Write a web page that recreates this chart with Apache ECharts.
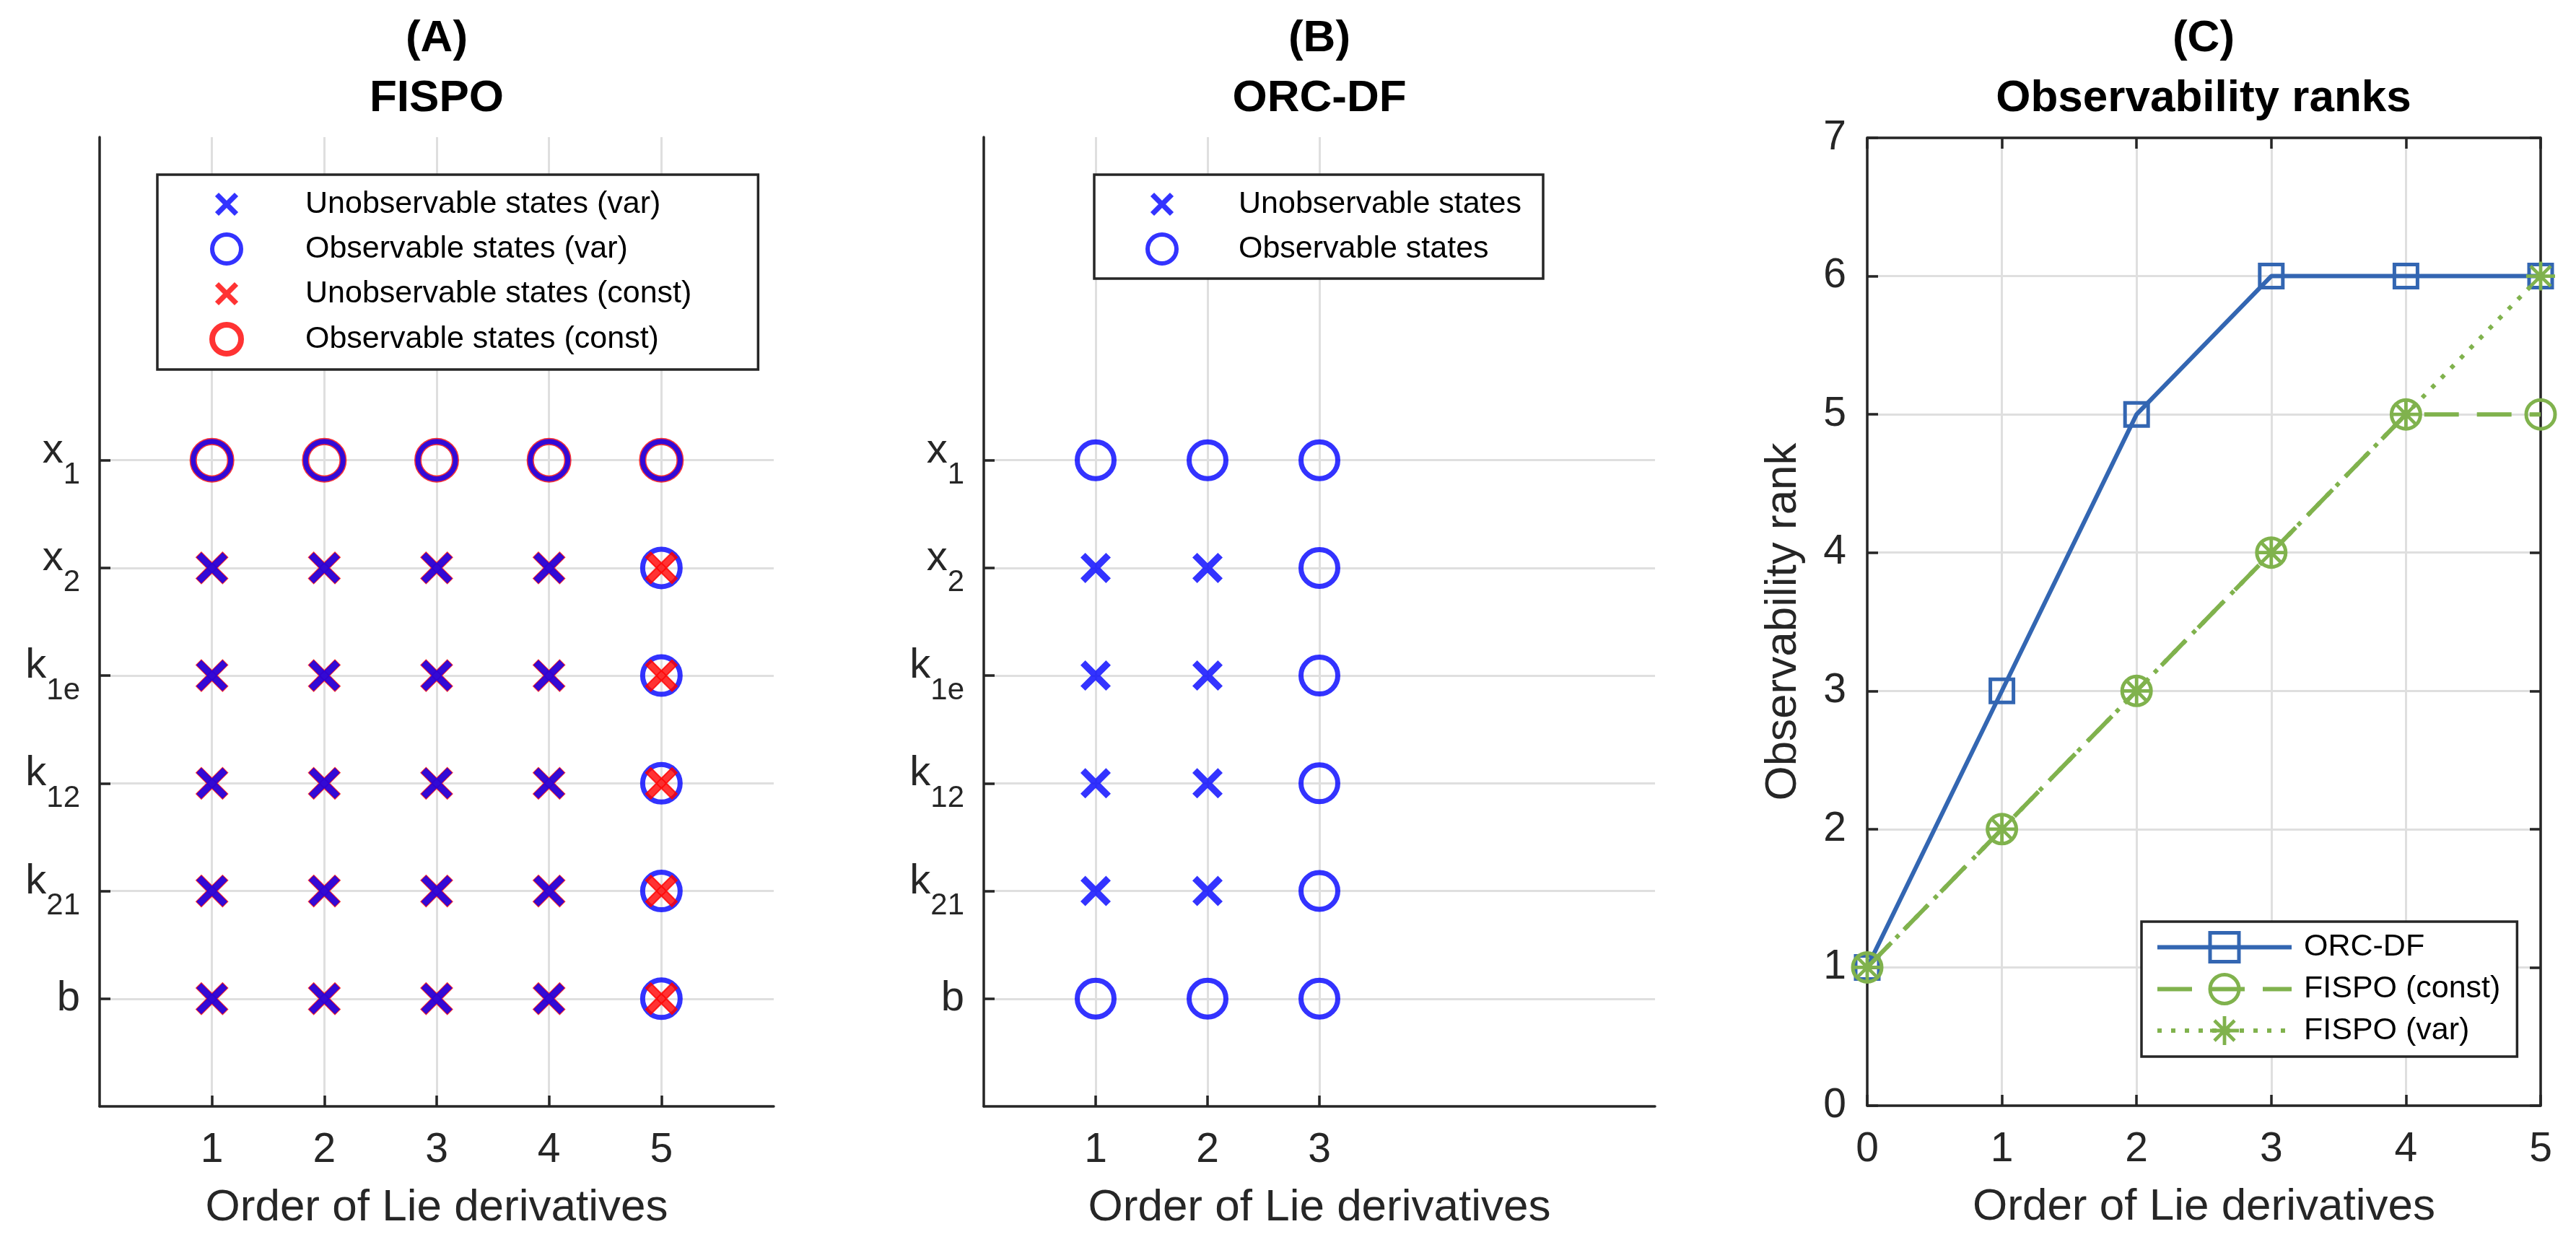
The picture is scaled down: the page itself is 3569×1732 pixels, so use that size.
<!DOCTYPE html>
<html><head><meta charset="utf-8">
<script src="https://cdn.jsdelivr.net/npm/echarts@6/dist/echarts.min.js"></script>
<style>html,body{margin:0;padding:0;background:#fff}#c{width:3569px;height:1732px}</style>
</head><body><div id="c"></div>
<script>
// ---------------- data ----------------
const stateLabels = ['b', 'k21', 'k12', 'k1e', 'x2', 'x1']; // y = 1..6
const fispoOrders = [1, 2, 3, 4, 5];
// 1 = observable, 0 = unobservable ; rows follow stateLabels
const fispoVarObservable = [
  [0, 0, 0, 0, 1],
  [0, 0, 0, 0, 1],
  [0, 0, 0, 0, 1],
  [0, 0, 0, 0, 1],
  [0, 0, 0, 0, 1],
  [1, 1, 1, 1, 1]
];
const fispoConstObservable = [
  [0, 0, 0, 0, 0],
  [0, 0, 0, 0, 0],
  [0, 0, 0, 0, 0],
  [0, 0, 0, 0, 0],
  [0, 0, 0, 0, 0],
  [1, 1, 1, 1, 1]
];
const orcdfOrders = [1, 2, 3];
const orcdfObservable = [
  [1, 1, 1],
  [0, 0, 1],
  [0, 0, 1],
  [0, 0, 1],
  [0, 0, 1],
  [1, 1, 1]
];
const rankOrders = [0, 1, 2, 3, 4, 5];
const rankOrcdf = [1, 3, 5, 6, 6, 6];
const rankFispoConst = [1, 2, 3, 4, 5, 5];
const rankFispoVar = [1, 2, 3, 4, 5, 6];

// ---------------- helpers ----------------
const FONT = '"Liberation Sans", Arial, Helvetica, sans-serif';
const AX = '#262626';
const GRIDC = '#dfdfdf';
const BLUE = '#0000ff', RED = '#ff0000';
const CBLUE = '#3366b2', CGREEN = '#80b24d';
const X_BODY = 'M9.4,-9.4L109.4,90.6L90.6,109.4L-9.4,9.4Z M109.4,9.4L9.4,109.4L-9.4,90.6L90.6,-9.4Z';
const X_PATH = 'path://' + X_BODY;
const X_LEGEND = 'path://M-24,-24L-24,-24Z M124,124L124,124Z ' + X_BODY;
const STAR_PATH = 'path://M0,44L100,44L100,56L0,56Z M44,0L56,0L56,100L44,100Z M19.2,10.8L89.2,80.8L80.8,89.2L10.8,19.2Z M89.2,19.2L19.2,89.2L10.8,80.8L80.8,10.8Z';

function pts(orders, matrix, want) {
  const out = [];
  matrix.forEach((row, i) => row.forEach((v, j) => { if (v === want) out.push([orders[j], i + 1]); }));
  return out;
}
function zip(xs, ys) { return xs.map((x, i) => [x, ys[i]]); }
function stateRich(name) {
  const main = name[0], sub = name.slice(1);
  return sub ? '{m|' + main + '}{s|' + sub + '}' : '{m|' + main + '}';
}
const stateTicks = stateLabels.map((_, i) => i + 1);

const lineS = { lineStyle: { color: AX, width: 3.5 } };
const tickS = (vals) => ({ show: true, inside: true, length: 15, customValues: vals, lineStyle: { color: AX, width: 3.5 } });
const splitS = { show: true, lineStyle: { color: GRIDC, width: 3 } };

function stateYAxis(gi) {
  return {
    gridIndex: gi, type: 'value', min: 0, max: 9,
    axisLine: lineS, axisTick: tickS(stateTicks), splitLine: splitS,
    axisLabel: {
      customValues: stateTicks, margin: 27, color: AX, fontFamily: FONT, fontSize: 58,
      formatter: (v) => stateRich(stateLabels[Math.round(v) - 1]),
      rich: {
        m: { fontSize: 58, fontFamily: FONT, color: AX, verticalAlign: 'top' },
        s: { fontSize: 42, fontFamily: FONT, color: AX, verticalAlign: 'bottom', padding: [42, 0, 0, 0] }
      }
    }
  };
}
function orderXAxis(gi, orders, max) {
  return {
    gridIndex: gi, type: 'value', min: 0, max: max, interval: 1,
    axisLine: Object.assign({ onZero: false }, lineS), axisTick: tickS(orders), splitLine: splitS,
    axisLabel: { customValues: orders, margin: 33, color: AX, fontFamily: FONT, fontSize: 57 },
    name: 'Order of Lie derivatives', nameLocation: 'middle', nameGap: 110,
    nameTextStyle: { color: AX, fontFamily: FONT, fontSize: 62 }
  };
}
const legendText = (sp) => ({ fontSize: 43, color: '#000', fontFamily: FONT, lineHeight: 44, rich: { sp: { width: sp } } });

const option = {
  animation: false,
  backgroundColor: '#fff',
  grid: [
    { left: 138, top: 190, width: 934, height: 1343, outerBoundsMode: 'none' },
    { left: 1363, top: 190, width: 930, height: 1343, outerBoundsMode: 'none' },
    { left: 2587, top: 191, width: 933, height: 1341, outerBoundsMode: 'none' }
  ],
  xAxis: [
    orderXAxis(0, fispoOrders, 6),
    orderXAxis(1, orcdfOrders, 6),
    Object.assign(orderXAxis(2, rankOrders, 5), {
      axisTick: { show: true, inside: true, length: 15, lineStyle: { color: AX, width: 3.5 } },
      axisLabel: { margin: 33, color: AX, fontFamily: FONT, fontSize: 57 }
    }),
    { gridIndex: 2, type: 'value', position: 'top', min: 0, max: 5, interval: 1,
      axisLine: Object.assign({ onZero: false }, lineS),
      axisTick: { show: true, inside: true, length: 15, lineStyle: { color: AX, width: 3.5 } },
      axisLabel: { show: false }, splitLine: { show: false } }
  ],
  yAxis: [
    stateYAxis(0),
    stateYAxis(1),
    { gridIndex: 2, type: 'value', min: 0, max: 7, interval: 1,
      axisLine: Object.assign({ onZero: false }, lineS),
      axisTick: { show: true, inside: true, length: 15, lineStyle: { color: AX, width: 3.5 } },
      splitLine: splitS,
      axisLabel: { margin: 29, color: AX, fontFamily: FONT, fontSize: 57 },
      name: 'Observability rank', nameLocation: 'middle', nameGap: 85,
      nameTextStyle: { color: AX, fontFamily: FONT, fontSize: 62 } },
    { gridIndex: 2, type: 'value', position: 'right', min: 0, max: 7, interval: 1,
      axisLine: Object.assign({ onZero: false }, lineS),
      axisTick: { show: true, inside: true, length: 15, lineStyle: { color: AX, width: 3.5 } },
      axisLabel: { show: false }, splitLine: { show: false } }
  ],
  legend: [
    { orient: 'vertical', left: 218, top: 242, padding: [19, 92, 18, 72], itemWidth: 80, itemHeight: 40, itemGap: 17,
      symbolKeepAspect: true, selectedMode: false, borderColor: AX, borderWidth: 3.5, backgroundColor: '#fff',
      textStyle: legendText(64), formatter: (n) => '{sp| }' + n,
      data: [
        { name: 'Unobservable states (var)', icon: X_LEGEND, itemStyle: { borderWidth: 0 } },
        { name: 'Observable states (var)', itemStyle: { borderWidth: 6 } },
        { name: 'Unobservable states (const)', icon: X_LEGEND, itemStyle: { borderWidth: 0 } },
        { name: 'Observable states (const)', itemStyle: { borderWidth: 8 } }
      ] },
    { orient: 'vertical', left: 1516, top: 242, padding: [19, 30, 18, 71], itemWidth: 80, itemHeight: 40, itemGap: 17,
      symbolKeepAspect: true, selectedMode: false, borderColor: AX, borderWidth: 3.5, backgroundColor: '#fff',
      textStyle: legendText(61), formatter: (n) => '{sp| }' + n,
      data: [
        { name: 'Unobservable states', icon: X_LEGEND, itemStyle: { borderWidth: 0 } },
        { name: 'Observable states', itemStyle: { borderWidth: 6 } }
      ] },
    { orient: 'vertical', left: 2967, top: 1277, padding: [13, 23, 14, 19], itemWidth: 186, itemHeight: 50, itemGap: 13,
      selectedMode: false, borderColor: AX, borderWidth: 3.5, backgroundColor: '#fff',
      lineStyle: { width: 6 },
      textStyle: legendText(12), formatter: (n) => '{sp| }' + n,
      data: [
        { name: 'ORC-DF', itemStyle: { borderWidth: 5 } },
        { name: 'FISPO (const)', itemStyle: { borderWidth: 5 } },
        { name: 'FISPO (var)', itemStyle: { borderWidth: 0 } }
      ] }
  ],
  graphic: [
    { type: 'text', x: 605, y: 12, silent: true,
      style: { text: '(A)\nFISPO', align: 'center', verticalAlign: 'top', fill: '#000', font: 'bold 62px ' + FONT, lineHeight: 83 } },
    { type: 'text', x: 1828, y: 12, silent: true,
      style: { text: '(B)\nORC-DF', align: 'center', verticalAlign: 'top', fill: '#000', font: 'bold 62px ' + FONT, lineHeight: 83 } },
    { type: 'text', x: 3053, y: 12, silent: true,
      style: { text: '(C)\nObservability ranks', align: 'center', verticalAlign: 'top', fill: '#000', font: 'bold 62px ' + FONT, lineHeight: 83 } }
  ],
  series: [
    // Panel A
    { name: 'Observable states (const)', type: 'scatter', xAxisIndex: 0, yAxisIndex: 0, z: 2, silent: true,
      symbol: 'circle', symbolSize: 52, itemStyle: { color: 'transparent', borderColor: RED, borderWidth: 10 },
      data: pts(fispoOrders, fispoConstObservable, 1) },
    { name: 'Observable states (var)', type: 'scatter', xAxisIndex: 0, yAxisIndex: 0, z: 3, silent: true,
      symbol: 'circle', symbolSize: 52, itemStyle: { color: 'transparent', borderColor: BLUE, borderWidth: 7 },
      data: pts(fispoOrders, fispoVarObservable, 1) },
    { name: 'Unobservable states (const)', type: 'scatter', xAxisIndex: 0, yAxisIndex: 0, z: 4, silent: true,
      symbol: X_PATH, symbolSize: 43, itemStyle: { color: RED, borderColor: RED, borderWidth: 2 },
      data: pts(fispoOrders, fispoConstObservable, 0) },
    { name: 'Unobservable states (var)', type: 'scatter', xAxisIndex: 0, yAxisIndex: 0, z: 5, silent: true,
      symbol: X_PATH, symbolSize: 43, itemStyle: { color: BLUE },
      data: pts(fispoOrders, fispoVarObservable, 0) },
    // Panel B
    { name: 'Observable states', type: 'scatter', xAxisIndex: 1, yAxisIndex: 1, z: 3, silent: true,
      symbol: 'circle', symbolSize: 51, itemStyle: { color: 'transparent', borderColor: BLUE, borderWidth: 7 },
      data: pts(orcdfOrders, orcdfObservable, 1) },
    { name: 'Unobservable states', type: 'scatter', xAxisIndex: 1, yAxisIndex: 1, z: 4, silent: true,
      symbol: X_PATH, symbolSize: 42, itemStyle: { color: BLUE },
      data: pts(orcdfOrders, orcdfObservable, 0) },
    // Panel C
    { name: 'ORC-DF', type: 'line', xAxisIndex: 2, yAxisIndex: 2, z: 3, silent: true,
      symbol: 'rect', symbolSize: 32, showAllSymbol: true,
      lineStyle: { color: CBLUE, width: 6 },
      itemStyle: { color: 'transparent', borderColor: CBLUE, borderWidth: 5 },
      data: zip(rankOrders, rankOrcdf) },
    { name: 'FISPO (const)', type: 'line', xAxisIndex: 2, yAxisIndex: 2, z: 4, silent: true,
      symbol: 'circle', symbolSize: 40, showAllSymbol: true,
      lineStyle: { color: CGREEN, width: 6, type: [48, 25] },
      itemStyle: { color: 'transparent', borderColor: CGREEN, borderWidth: 5 },
      data: zip(rankOrders, rankFispoConst) },
    { name: 'FISPO (var)', type: 'line', xAxisIndex: 2, yAxisIndex: 2, z: 5, silent: true,
      symbol: STAR_PATH, symbolSize: 40, showAllSymbol: true,
      lineStyle: { color: CGREEN, width: 6, type: [6, 13] },
      itemStyle: { color: CGREEN },
      data: zip(rankOrders, rankFispoVar) }
  ]
};
const chart = echarts.init(document.getElementById('c'), null, { renderer: 'canvas' });
chart.setOption(option);
</script>
</body></html>
